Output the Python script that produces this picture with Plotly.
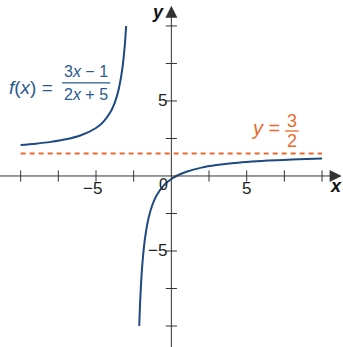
import plotly.graph_objects as go

# Left branch of f(x) = (3x-1)/(2x+5)
left_x = [-10, -9, -8, -7, -6, -5, -4.5, -4, -3.75, -3.5, -3.25, -3.1, -3]
left_y = [2.067, 2.154, 2.273, 2.444, 2.714, 3.2, 3.625, 4.333, 4.9, 5.75, 7.167, 8.583, 10]

# Right branch
right_x = [-2.13, -2.1, -2.05, -2.0, -1.9, -1.75, -1.5, -1.25, -1, -0.5, 0, 0.5, 1, 2, 3, 4, 5, 6, 7, 8, 9, 10]
right_y = [-9.99, -9.125, -7.944, -7.0, -5.583, -4.167, -2.75, -1.9, -1.333, -0.625, -0.2, 0.083, 0.286,
           0.556, 0.727, 0.846, 0.933, 1.0, 1.053, 1.095, 1.13, 1.16]

# Horizontal asymptote
asym_x = [-10, 10]
asym_y = [1.5, 1.5]

tick_vals = [-10, -7.5, -5, -2.5, 2.5, 5, 7.5, 10]
x_label_vals = [-5, 5]
x_label_text = ["\u22125", "5"]
y_label_vals = [5, -5]
y_label_text = ["5", "\u22125"]

BLUE = "#1d4a80"
TXTBLUE = "#2b5a90"
ORANGE = "#e86a2e"
AXIS = "#333333"
FONT = "Liberation Sans, Arial, sans-serif"

fig = go.Figure()

# axis ticks
fig.add_trace(go.Scatter(x=tick_vals, y=[0] * len(tick_vals), mode="markers",
                         marker=dict(symbol="line-ns", size=8, line=dict(width=1, color=AXIS)),
                         hoverinfo="skip", showlegend=False))
fig.add_trace(go.Scatter(x=[0] * len(tick_vals), y=tick_vals, mode="markers",
                         marker=dict(symbol="line-ew", size=8, line=dict(width=1, color=AXIS)),
                         hoverinfo="skip", showlegend=False))

fig.add_trace(go.Scatter(x=asym_x, y=asym_y, mode="lines",
                         line=dict(color=ORANGE, width=2, dash="5px,4px"),
                         hoverinfo="skip", showlegend=False))
fig.add_trace(go.Scatter(x=left_x, y=left_y, mode="lines",
                         line=dict(color=BLUE, width=2, shape="spline", smoothing=1.0),
                         hoverinfo="skip", showlegend=False))
fig.add_trace(go.Scatter(x=right_x, y=right_y, mode="lines",
                         line=dict(color=BLUE, width=2, shape="spline", smoothing=1.0),
                         hoverinfo="skip", showlegend=False))

ann = []
# axes with arrowheads
ann.append(dict(x=11.3, y=0, ax=-11.5, ay=0, xref="x", yref="y", axref="x", ayref="y",
                showarrow=True, arrowhead=2, arrowsize=2.4, arrowwidth=1, arrowcolor=AXIS, text=""))
ann.append(dict(x=0, y=11.35, ax=0, ay=-11.6, xref="x", yref="y", axref="x", ayref="y",
                showarrow=True, arrowhead=2, arrowsize=2.4, arrowwidth=1, arrowcolor=AXIS, text=""))

for v, t in zip(x_label_vals, x_label_text):
    ann.append(dict(x=v, y=-0.85, text=t, showarrow=False, xshift=-4 if v < 0 else 0,
                    font=dict(family=FONT, size=17, color="#222")))
for v, t in zip(y_label_vals, y_label_text):
    ann.append(dict(x=-0.15, y=v, text=t, showarrow=False, xanchor="right",
                    font=dict(family=FONT, size=17, color="#222")))
ann.append(dict(x=-0.5, y=-0.6, text="0", showarrow=False,
                font=dict(family=FONT, size=16, color="#222")))

ann.append(dict(x=10.9, y=-0.65, text="<b><i>x</i></b>", showarrow=False,
                font=dict(family=FONT, size=18, color="#111")))
ann.append(dict(x=-0.9, y=10.95, text="<b><i>y</i></b>", showarrow=False,
                font=dict(family=FONT, size=18, color="#111")))

# f(x) label
ann.append(dict(x=-9.3, y=5.87, text="<i>f</i>(<i>x</i>) =", showarrow=False,
                font=dict(family=FONT, size=19, color=TXTBLUE)))
ann.append(dict(x=-5.65, y=6.95, text="3<i>x</i> \u2212 1", showarrow=False,
                font=dict(family=FONT, size=16, color=TXTBLUE)))
ann.append(dict(x=-5.65, y=5.45, text="2<i>x</i> + 5", showarrow=False,
                font=dict(family=FONT, size=16, color=TXTBLUE)))

# y = 3/2 label
ann.append(dict(x=6.25, y=3.2, text="<i>y</i> =", showarrow=False,
                font=dict(family=FONT, size=20, color=ORANGE)))
ann.append(dict(x=8.0, y=3.65, text="3", showarrow=False,
                font=dict(family=FONT, size=18, color=ORANGE)))
ann.append(dict(x=8.0, y=2.35, text="2", showarrow=False,
                font=dict(family=FONT, size=18, color=ORANGE)))

fig.update_layout(
    annotations=ann,
    shapes=[
        dict(type="line", xref="x", yref="y", x0=-7.25, x1=-4.05, y0=6.2, y1=6.2,
             line=dict(color=TXTBLUE, width=1.3)),
        dict(type="line", xref="x", yref="y", x0=7.55, x1=8.45, y0=3.0, y1=3.0,
             line=dict(color=ORANGE, width=1.3)),
    ],
    width=343, height=347,
    margin=dict(l=0, r=0, t=0, b=0),
    paper_bgcolor="white", plot_bgcolor="white",
    xaxis=dict(range=[-11.37, 11.39], visible=False, fixedrange=True),
    yaxis=dict(range=[-11.4, 11.73], visible=False, fixedrange=True),
    showlegend=False,
)

fig.write_html("out.html")
